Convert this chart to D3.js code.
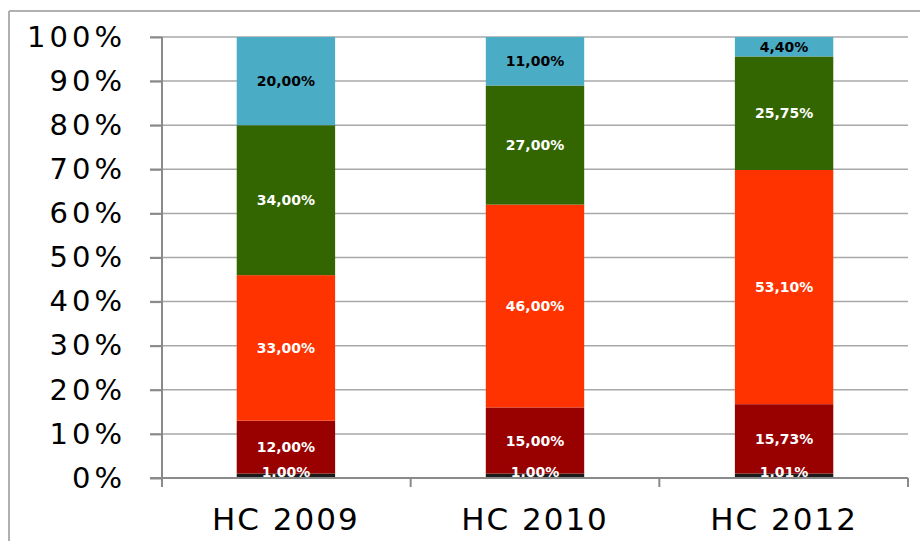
<!DOCTYPE html>
<html>
<head>
<meta charset="utf-8">
<script src="https://cdn.jsdelivr.net/npm/d3@7"></script>
<style>
  body { margin: 0; background: #fff; }
  svg { display: block; }
</style>
</head>
<body>
<div id="chart"></div>
<script>
// chart data
var categories = ["HC 2009", "HC 2010", "HC 2012"];
var seriesKeys = ["s1", "s2", "s3", "s4", "s5"];
var s1 = [1.00, 1.00, 1.01];
var s2 = [12.00, 15.00, 15.73];
var s3 = [33.00, 46.00, 53.10];
var s4 = [34.00, 27.00, 25.75];
var s5 = [20.00, 11.00, 4.40];
var yTicks = [0, 10, 20, 30, 40, 50, 60, 70, 80, 90, 100];

var seriesColors = ["#1a1a1a", "#990000", "#ff3300", "#336600", "#4bacc6"];
var labelColors = ["#ffffff", "#ffffff", "#ffffff", "#ffffff", "#000000"];

var W = 920, H = 541;
var margin = { top: 37, right: 12, bottom: 63, left: 162 },
    width = W - margin.left - margin.right,
    height = H - margin.top - margin.bottom;

var svg = d3.select("#chart").append("svg")
    .attr("width", W)
    .attr("height", H);

// outer frame (only top and left edges are visible)
svg.append("line").attr("x1", 9).attr("x2", W).attr("y1", 11).attr("y2", 11)
    .attr("stroke", "#b0b0b0").attr("stroke-width", 2);
svg.append("line").attr("x1", 9).attr("x2", 9).attr("y1", 11).attr("y2", H)
    .attr("stroke", "#b0b0b0").attr("stroke-width", 2);

var g = svg.append("g")
    .attr("transform", "translate(" + margin.left + "," + margin.top + ")");

// build rows for the stack
var rows = categories.map(function (c, i) {
    return { cat: c, s1: s1[i], s2: s2[i], s3: s3[i], s4: s4[i], s5: s5[i] };
});
var stacked = d3.stack().keys(seriesKeys)(rows);

var x = d3.scaleBand()
    .domain(categories)
    .range([0, width])
    .paddingInner(0.605)
    .paddingOuter(0.3);

var y = d3.scaleLinear()
    .domain([0, 100])
    .range([height, 0]);

// gridlines
g.append("g")
    .selectAll("line")
    .data(yTicks.filter(function (d) { return d > 0; }))
    .enter()
    .append("line")
    .attr("x1", -12)
    .attr("x2", width)
    .attr("y1", function (d) { return y(d); })
    .attr("y2", function (d) { return y(d); })
    .attr("stroke", "#a8a8a8")
    .attr("stroke-width", 1.5);

// bars
var layers = g.selectAll("g.layer")
    .data(stacked)
    .enter()
    .append("g")
    .attr("class", "layer")
    .attr("fill", function (d, i) { return seriesColors[i]; });

layers.selectAll("rect")
    .data(function (d) { return d; })
    .enter()
    .append("rect")
    .attr("x", function (d) { return x(d.data.cat); })
    .attr("width", x.bandwidth())
    .attr("y", function (d) { return y(d[1]); })
    .attr("height", function (d) { return y(d[0]) - y(d[1]); });

// value labels
var fmt = function (v) { return v.toFixed(2).replace(".", ",") + "%"; };
stacked.forEach(function (layer, i) {
    g.append("g").selectAll("text")
        .data(layer)
        .enter()
        .append("text")
        .attr("x", function (d) { return x(d.data.cat) + x.bandwidth() / 2; })
        .attr("y", function (d) { return y((d[0] + d[1]) / 2); })
        .attr("dy", i === 0 ? "0.1em" : "0.36em")
        .attr("text-anchor", "middle")
        .attr("fill", labelColors[i])
        .style("font-family", "'DejaVu Sans', Verdana, sans-serif")
        .style("font-weight", "bold")
        .style("font-size", "14px")
        .text(function (d) { return fmt(d[1] - d[0]); });
});

// y axis
var yAxis = g.append("g")
    .call(d3.axisLeft(y).tickValues(yTicks).tickSize(12).tickPadding(24)
        .tickFormat(function (d) { return d + "%"; }));
yAxis.select(".domain").remove();
yAxis.selectAll(".tick line").attr("stroke", "#8a8a8a").attr("stroke-width", 2);
yAxis.selectAll("text")
    .style("font-family", "'DejaVu Sans', Verdana, sans-serif")
    .style("font-size", "29px")
    .style("letter-spacing", "4px")
    .attr("fill", "#000");
g.append("line")
    .attr("x1", 0).attr("x2", 0)
    .attr("y1", 0).attr("y2", height + 9)
    .attr("stroke", "#8a8a8a").attr("stroke-width", 2);

// x axis
g.append("line")
    .attr("x1", -12).attr("x2", width)
    .attr("y1", height).attr("y2", height)
    .attr("stroke", "#8a8a8a").attr("stroke-width", 2);
var bounds = [1, 2, 3];
g.append("g").selectAll("line")
    .data(bounds)
    .enter()
    .append("line")
    .attr("x1", function (d) { return d * width / categories.length; })
    .attr("x2", function (d) { return d * width / categories.length; })
    .attr("y1", height)
    .attr("y2", height + 9)
    .attr("stroke", "#8a8a8a").attr("stroke-width", 2);

g.append("g").selectAll("text")
    .data(categories)
    .enter()
    .append("text")
    .attr("x", function (d) { return x(d) + x.bandwidth() / 2; })
    .attr("y", height + 52)
    .attr("text-anchor", "middle")
    .style("font-family", "'DejaVu Sans', Verdana, sans-serif")
    .style("font-size", "31px")
    .style("letter-spacing", "2px")
    .attr("fill", "#000")
    .text(function (d) { return d; });
</script>
</body>
</html>
